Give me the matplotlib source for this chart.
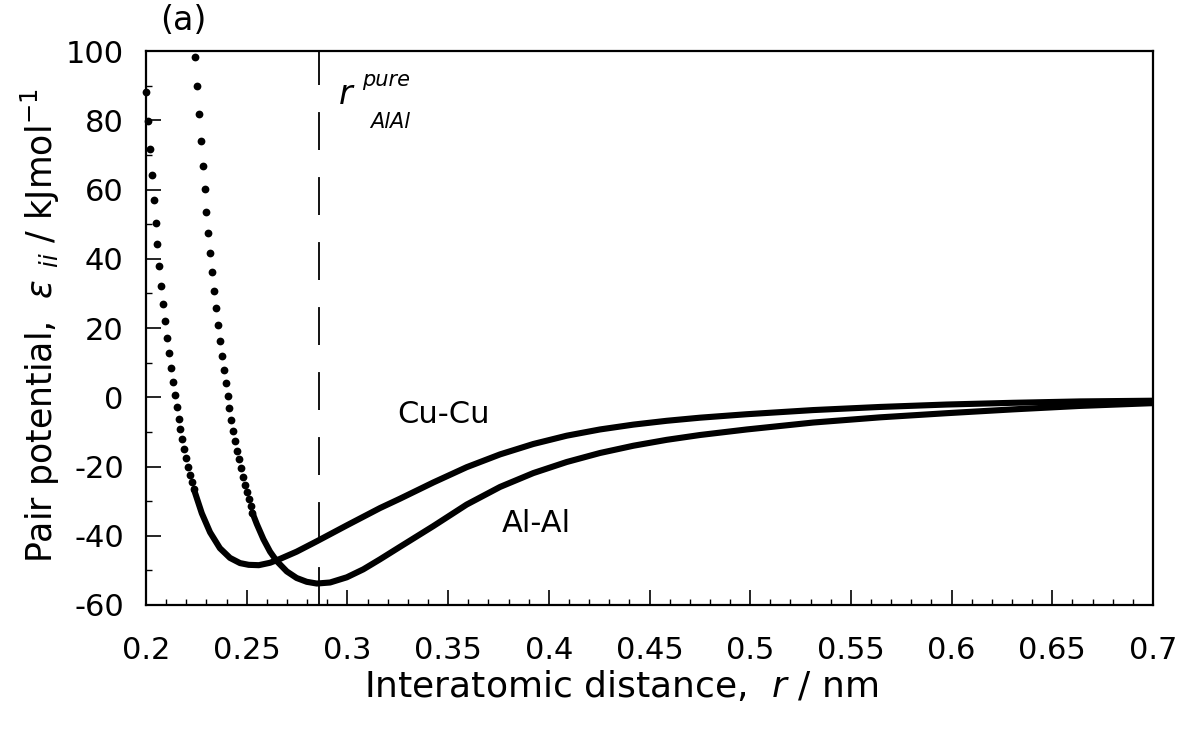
import matplotlib
matplotlib.use('Agg')
import matplotlib.pyplot as plt
from matplotlib.ticker import MultipleLocator


# Data (r in nm, pair potential in kJ/mol)

# steep repulsive part, drawn as separate dots
CUCU_DOT_R = [0.2000, 0.2010, 0.2019, 0.2029, 0.2038, 0.2048, 0.2057, 0.2067, 0.2076,
              0.2086, 0.2095, 0.2105, 0.2114, 0.2124, 0.2133, 0.2143, 0.2152, 0.2162,
              0.2171, 0.2181, 0.2190, 0.2200, 0.2209, 0.2219, 0.2228, 0.2238]
CUCU_DOT_E = [88.1, 79.8, 71.6, 64.1, 57.0, 50.2, 44.2, 37.9, 32.2,
              26.9, 22.1, 17.2, 12.7, 8.4, 4.3, 0.6, -2.9, -6.2,
              -9.3, -12.1, -14.9, -17.5, -20.1, -22.5, -24.6, -26.6]

ALAL_DOT_R = [0.2243, 0.2253, 0.2262, 0.2272, 0.2281, 0.2291, 0.2300, 0.2310, 0.2319,
              0.2329, 0.2338, 0.2348, 0.2357, 0.2367, 0.2376, 0.2386, 0.2395, 0.2405,
              0.2414, 0.2424, 0.2433, 0.2443, 0.2452, 0.2462, 0.2471, 0.2481, 0.2490,
              0.2500, 0.2509, 0.2519, 0.2528]
ALAL_DOT_E = [98.4, 89.9, 81.8, 74.1, 66.8, 60.1, 53.4, 47.4, 41.7,
              36.1, 30.8, 25.7, 20.9, 16.3, 12.0, 7.9, 4.2, 0.4,
              -3.2, -6.6, -9.7, -12.5, -15.4, -17.9, -20.4, -22.9, -25.3,
              -27.4, -29.4, -31.4, -33.3]

# dense part, where the dots run together into a solid band
CUCU_R = [0.2238, 0.2277, 0.2318, 0.2367, 0.2417, 0.2467, 0.2510, 0.2560, 0.2616,
          0.2665, 0.2748, 0.2848, 0.2997, 0.3162, 0.3261, 0.3427, 0.3592, 0.3758,
          0.3923, 0.4089, 0.4254, 0.4420, 0.4585, 0.4751, 0.4983, 0.5313, 0.5645,
          0.5976, 0.6305, 0.6638, 0.7000]
CUCU_E = [-26.6, -33.5, -39.0, -43.6, -46.4, -47.9, -48.4, -48.5, -47.8,
          -46.7, -44.6, -41.6, -37.0, -32.0, -29.3, -24.6, -20.2, -16.5,
          -13.5, -11.1, -9.3, -7.9, -6.8, -5.9, -4.9, -3.7, -2.8,
          -2.1, -1.6, -1.2, -1.0]

ALAL_R = [0.2528, 0.2550, 0.2583, 0.2616, 0.2649, 0.2699, 0.2748, 0.2798, 0.2848,
          0.2914, 0.2997, 0.3079, 0.3162, 0.3261, 0.3427, 0.3592, 0.3758, 0.3923,
          0.4089, 0.4254, 0.4420, 0.4585, 0.4751, 0.4983, 0.5313, 0.5645, 0.5976,
          0.6305, 0.6638, 0.7000]
ALAL_E = [-33.3, -36.6, -41.0, -44.6, -47.3, -50.3, -52.2, -53.3, -53.8,
          -53.5, -52.0, -49.7, -46.8, -43.2, -37.2, -31.0, -25.9, -21.9,
          -18.7, -16.1, -14.0, -12.3, -10.9, -9.3, -7.3, -5.8, -4.6,
          -3.5, -2.5, -1.7]

# nearest neighbour distance of pure Al
R_PURE_ALAL = 0.286

# plain hyphens for negative numbers, as in the original
plt.rcParams['axes.unicode_minus'] = False

fig = plt.figure(figsize=(11.86, 7.32), dpi=100)
ax = fig.add_axes([0.1231, 0.1735, 0.8491, 0.7568])

# curves
ax.plot(CUCU_DOT_R, CUCU_DOT_E, 'o', color='black', ms=5.6, mew=0, clip_on=False)
ax.plot(ALAL_DOT_R, ALAL_DOT_E, 'o', color='black', ms=5.6, mew=0, clip_on=False)
ax.plot(CUCU_R, CUCU_E, '-', color='black', lw=4.4,
        solid_capstyle='round', solid_joinstyle='round')
ax.plot(ALAL_R, ALAL_E, '-', color='black', lw=4.4,
        solid_capstyle='round', solid_joinstyle='round')

# r pure AlAl marker
ax.axvline(R_PURE_ALAL, color='black', lw=1.3, dashes=(21, 15))
ax.text(0.2955, 87.5, 'r', fontsize=24, style='italic', ha='left', va='center')
ax.text(0.3073, 91.5, 'pure', fontsize=15, style='italic', ha='left', va='center')
ax.text(0.3112, 79.5, 'AlAl', fontsize=15, style='italic', ha='left', va='center')

# curve labels
ax.text(0.3246, -5.1, 'Cu-Cu', fontsize=22, ha='left', va='center')
ax.text(0.3768, -36.6, 'Al-Al', fontsize=22, ha='left', va='center')

# axes
ax.set_xlim(0.2, 0.7)
ax.set_ylim(-60, 100)
ax.xaxis.set_minor_locator(MultipleLocator(0.01))
ax.yaxis.set_major_locator(MultipleLocator(20))
ax.yaxis.set_minor_locator(MultipleLocator(10))
ax.set_xticks([0.2, 0.25, 0.3, 0.35, 0.4, 0.45, 0.5, 0.55, 0.6, 0.65, 0.7])
ax.set_xticklabels(['0.2', '0.25', '0.3', '0.35', '0.4', '0.45', '0.5',
                    '0.55', '0.6', '0.65', '0.7'])
ax.tick_params(which='major', direction='in', length=11, width=1.2, labelsize=22)
ax.tick_params(which='minor', direction='in', length=4.5, width=1.0)
ax.tick_params(axis='x', which='major', pad=22)
ax.tick_params(axis='y', which='major', pad=16)
for side in ax.spines.values():
    side.set_linewidth(1.6)

ax.set_xlabel('Interatomic distance,  $r$ / nm', fontsize=26)
ax.xaxis.set_label_coords(0.4717, -0.148)
ax.xaxis.label.set_verticalalignment('center')
ax.set_ylabel(r'Pair potential,  $\varepsilon\ _{ii}$ / kJmol$^{-1}$', fontsize=25)
ax.yaxis.set_label_coords(-0.105, 0.505)
ax.yaxis.label.set_verticalalignment('center')

fig.text(183 / 1186, 1 - 20 / 732, '(a)', fontsize=24, ha='center', va='center')

fig.savefig('out.png', dpi=100)
